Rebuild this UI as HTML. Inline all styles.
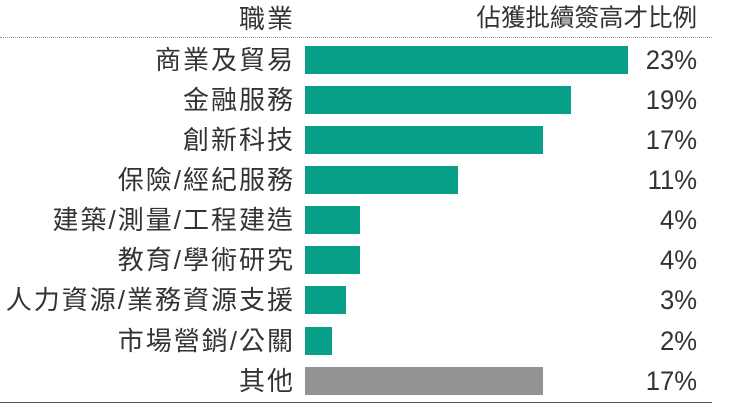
<!DOCTYPE html>
<html><head><meta charset="utf-8"><style>
body{margin:0;width:732px;height:413px;background:#fff;position:relative;overflow:hidden;font-family:"Liberation Sans","Noto Sans CJK TC",sans-serif;color:#333}
.t{position:absolute;font-size:26px;line-height:28px;white-space:nowrap}
.l{right:437px;text-align:right;letter-spacing:2px}
.p{right:35px;text-align:right;font-size:27px;transform:scaleX(.95);transform-origin:right}
.b{position:absolute;left:305px;height:28px;background:#09a08a}
</style></head><body>
<div class="t l" style="top:5px">職業</div>
<div class="t" style="top:5px;right:35px;font-size:24.5px">佔獲批續簽高才比例</div>
<div style="position:absolute;left:0;top:37px;width:712px;border-top:1px dotted #999"></div>
<div class="t l" style="top:46px">商業及貿易</div><div class="b" style="top:46px;width:323px"></div><div class="t p" style="top:46px">23%</div>
<div class="t l" style="top:86px">金融服務</div><div class="b" style="top:86px;width:266px"></div><div class="t p" style="top:86px">19%</div>
<div class="t l" style="top:126px">創新科技</div><div class="b" style="top:126px;width:238px"></div><div class="t p" style="top:126px">17%</div>
<div class="t l" style="top:166px">保險/經紀服務</div><div class="b" style="top:166px;width:153px"></div><div class="t p" style="top:166px">11%</div>
<div class="t l" style="top:206px">建築/測量/工程建造</div><div class="b" style="top:206px;width:55px"></div><div class="t p" style="top:206px">4%</div>
<div class="t l" style="top:246px">教育/學術研究</div><div class="b" style="top:246px;width:55px"></div><div class="t p" style="top:246px">4%</div>
<div class="t l" style="top:286px">人力資源/業務資源支援</div><div class="b" style="top:286px;width:41px"></div><div class="t p" style="top:286px">3%</div>
<div class="t l" style="top:327px">市場營銷/公關</div><div class="b" style="top:327px;width:27px"></div><div class="t p" style="top:327px">2%</div>
<div class="t l" style="top:367px">其他</div><div class="b" style="top:367px;width:238px;background:#939393"></div><div class="t p" style="top:367px">17%</div>
<div style="position:absolute;left:0;top:402px;width:712px;border-top:1px solid #555"></div>
</body></html>
